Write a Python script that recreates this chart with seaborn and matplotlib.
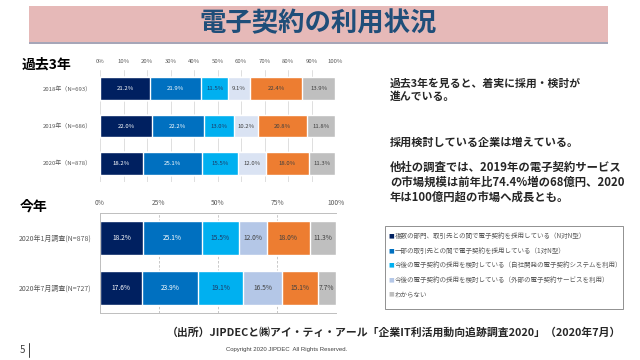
import numpy as np
import matplotlib
matplotlib.use("Agg")
import matplotlib.pyplot as plt
from matplotlib.patches import Rectangle
import seaborn as sns

# data
past_labels = ["2018年（N=693）", "2019年（N=686）", "2020年（N=878）"]
past_values = [
    [21.2, 21.9, 11.5, 9.1, 22.4, 13.9],
    [22.0, 22.2, 13.0, 10.2, 20.8, 11.8],
    [18.2, 25.1, 15.5, 12.0, 18.0, 11.3],
]
now_labels = ["2020年1月調査(N=878)", "2020年7月調査(N=727)"]
now_values = [
    [18.2, 25.1, 15.5, 12.0, 18.0, 11.3],
    [17.6, 23.9, 19.1, 16.5, 15.1, 7.7],
]
legend_labels = [
    "複数の部門、取引先との間で電子契約を採用している（N対N型）",
    "一部の取引先との間で電子契約を採用している（1対N型）",
    "今後の電子契約の採用を検討している（自社開発の電子契約システムを利用）",
    "今後の電子契約の採用を検討している（外部の電子契約サービスを利用）",
    "わからない",
]
past_ticks = list(range(0, 101, 10))
now_ticks = [0, 25, 50, 75, 100]

colors_past = ["#002060", "#0070C0", "#00B0F0", "#DAE3F3", "#ED7D31", "#BFBFBF"]
colors_now = ["#002060", "#0070C0", "#00B0F0", "#B4C7E7", "#ED7D31", "#BFBFBF"]
legend_colors = ["#002060", "#0070C0", "#00B0F0", "#B4C7E7", "#BFBFBF"]
text_colors = ["white", "white", "#1F3864", "#404040", "#404040", "#404040"]

sns.set_theme(style="white")
plt.rcParams["font.family"] = ["Noto Sans CJK JP", "DejaVu Sans"]

W, H = 640, 360
fig = plt.figure(figsize=(6.4, 3.6), dpi=100)


def px_axes(x0, y0, x1, y1):
    return fig.add_axes([x0 / W, 1 - y1 / H, (x1 - x0) / W, (y1 - y0) / H])


def ftext(x, y, s, **kw):
    fig.text(x / W, 1 - y / H, s, **kw)


def stacked(ax, labels, values, colors, bar_w, fs):
    vals = np.array(values)
    cum = vals.cumsum(axis=1)
    # draw cumulative totals from the back so each segment shows through
    for i in reversed(range(vals.shape[1])):
        sns.barplot(x=cum[:, i], y=labels, orient="h", color=colors[i],
                    saturation=1, width=bar_w, errorbar=None, ax=ax, zorder=2)
    for r in range(vals.shape[0]):
        for i in range(vals.shape[1]):
            ax.text(cum[r, i] - vals[r, i] / 2, r, f"{vals[r, i]:.1f}%",
                    ha="center", va="center", fontsize=fs, color=text_colors[i],
                    zorder=3)
    ax.set_xlim(0, 100)
    ax.set_ylim(len(labels) - 0.5, -0.5)
    ax.set_xlabel("")
    ax.set_ylabel("")
    ax.xaxis.tick_top()
    ax.set_axisbelow(True)


# title banner
fig.patches.append(Rectangle((29 / W, 1 - 42 / H), 579 / W, 36 / H,
                             transform=fig.transFigure, facecolor="#E6B9B8",
                             edgecolor="none", zorder=0))
fig.patches.append(Rectangle((29 / W, 1 - 44 / H), 579 / W, 2 / H,
                             transform=fig.transFigure, facecolor="#A6A6B8",
                             edgecolor="none", zorder=0))
ftext(318, 24, "電子契約の利用状況", ha="center", va="center", fontsize=19,
      fontweight="bold", color="#1F4E79")

# past three years
ax1 = px_axes(100, 70, 335, 182)
stacked(ax1, past_labels, past_values, colors_past, 0.6, 4.3)
ax1.set_xticks(past_ticks)
ax1.set_xticklabels([f"{t}%" for t in past_ticks])
ax1.grid(axis="x", color="#D9D9D9", linewidth=0.6, linestyle="-")
ax1.grid(axis="y", visible=False)
for s in ax1.spines.values():
    s.set_visible(False)
ax1.tick_params(axis="both", length=0, labelsize=4.3, labelcolor="#595959")
ax1.tick_params(axis="x", pad=4)
ax1.tick_params(axis="y", pad=6)
ftext(22, 65, "過去3年", ha="left", va="center", fontsize=10, fontweight="bold",
      color="#000000")

# this year
ax2 = px_axes(100, 213, 336, 313)
stacked(ax2, now_labels, now_values, colors_now, 0.67, 4.8)
ax2.set_xticks(now_ticks)
ax2.set_xticklabels([f"{t}%" for t in now_ticks])
ax2.grid(axis="x", color="#BFBFBF", linewidth=0.6, linestyle=(0, (3, 2)))
ax2.grid(axis="y", visible=False)
for side in ["top", "left", "bottom"]:
    ax2.spines[side].set_color("#BFBFBF")
    ax2.spines[side].set_linewidth(0.7)
ax2.spines["right"].set_visible(False)
ax2.tick_params(axis="x", length=0, labelsize=4.8, labelcolor="#595959", pad=4)
ax2.tick_params(axis="y", length=0, labelsize=5, labelcolor="#595959", pad=6)
ax2.set_yticks([0.5], minor=True)
ax2.tick_params(axis="y", which="minor", length=3, color="#BFBFBF", width=0.7,
                direction="out")
ftext(20, 207, "今年", ha="left", va="center", fontsize=10, fontweight="bold",
      color="#000000")

# commentary
ftext(390, 90, "過去3年を見ると、着実に採用・検討が\n進んでいる。", ha="left",
      va="center", fontsize=7.8, fontweight="bold", linespacing=1.25)
ftext(390, 142, "採用検討している企業は増えている。", ha="left", va="center",
      fontsize=8, fontweight="bold")
ftext(390, 182, "他社の調査では、2019年の電子契約サービス\n"
      "の市場規模は前年比74.4%増の68億円、2020\n年は100億円超の市場へ成長とも。",
      ha="left", va="center", fontsize=8.2, fontweight="bold", linespacing=1.2)

# legend box
fig.patches.append(Rectangle((385 / W, 1 - 309 / H), 238 / W, 83 / H,
                             transform=fig.transFigure, facecolor="white",
                             edgecolor="#7F7F7F", linewidth=0.6, zorder=1))
for k, (lab, col) in enumerate(zip(legend_labels, legend_colors)):
    y = 236 + k * 14.5
    ftext(388, y, "■", ha="left", va="center", fontsize=4.3, color=col,
          family=["DejaVu Sans"])
    ftext(395, y, lab, ha="left", va="center", fontsize=4.7, color="#595959")

# footer
ftext(167, 332, "（出所）JIPDECと㈱アイ・ティ・アール「企業IT利活用動向追跡調査2020」（2020年7月）",
      ha="left", va="center", fontsize=7.8, fontweight="bold")
ftext(287, 350, "Copyright 2020 JIPDEC  All Rights Reserved.", ha="center",
      va="center", fontsize=4.3, color="#404040", family=["Liberation Sans"])
ftext(20, 350, "5", ha="left", va="center", fontsize=7, color="#404040")
fig.lines.append(plt.Line2D([29 / W, 29 / W], [1 - 343 / H, 1 - 357 / H],
                            transform=fig.transFigure, color="#404040",
                            linewidth=0.7))

fig.savefig("out.png", dpi=100)
